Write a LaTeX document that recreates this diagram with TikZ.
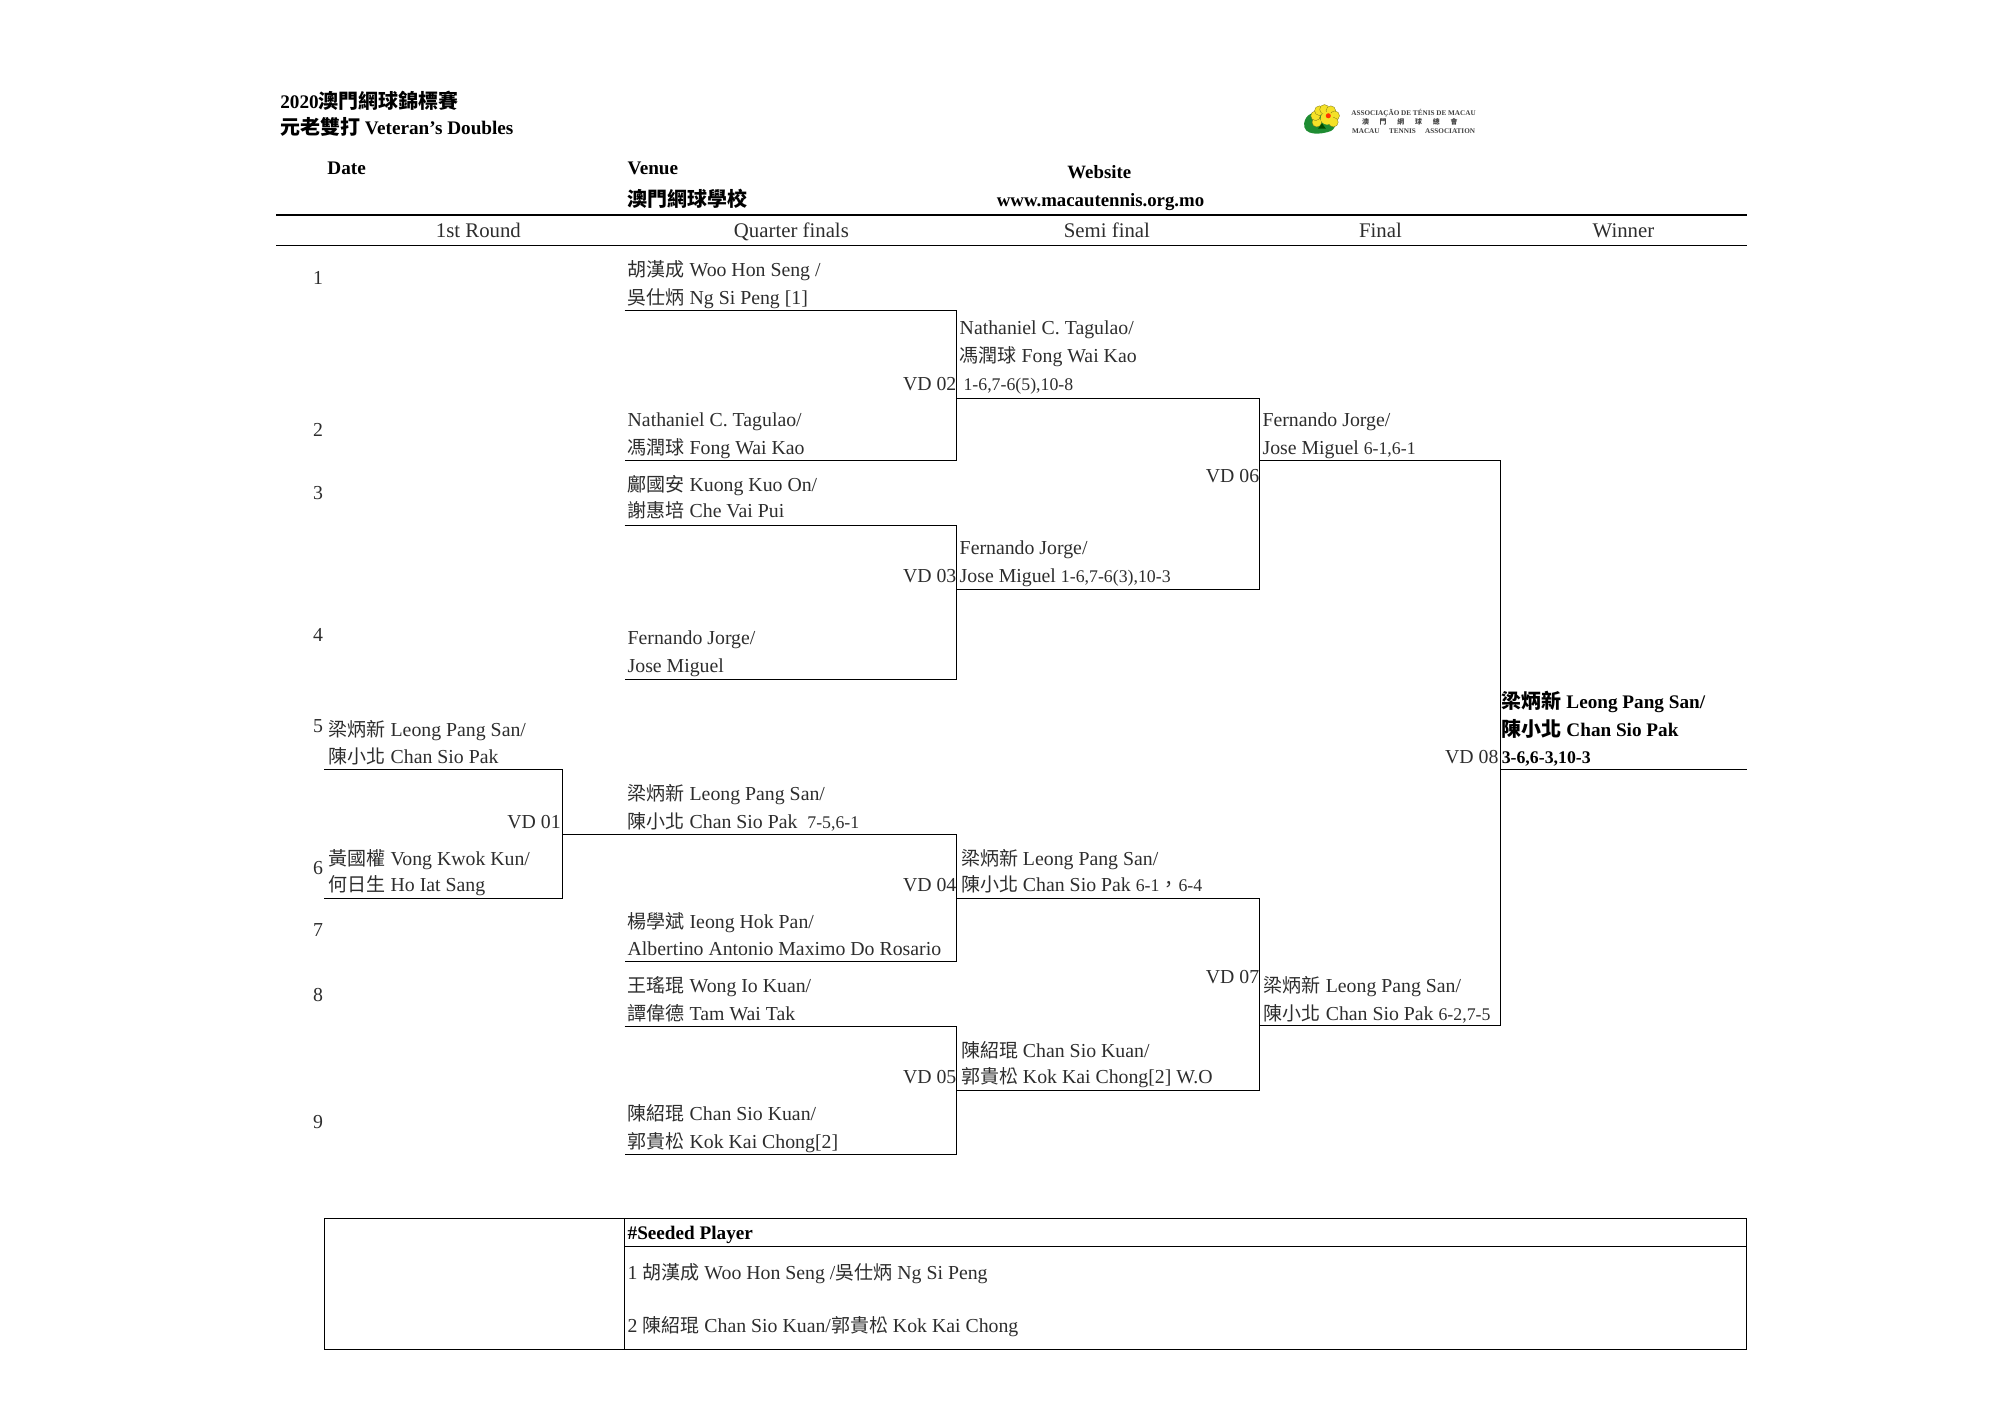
\documentclass[tikz,border=0pt]{standalone}
\usepackage{fontspec}
\usepackage{xcolor}
\setmainfont{Liberation Serif}
\newfontfamily\cjk[Scale=0.96]{Noto Sans CJK TC}
\newfontfamily\cjkb[Scale=1.04]{Noto Sans CJK TC}
\newcommand{\zh}[1]{{\cjk #1}}
\newcommand{\zhb}[1]{{\cjkb\bfseries #1}}
\newcommand{\scr}[1]{{\fontsize{8.9pt}{11pt}\selectfont #1}}
\definecolor{txtc}{RGB}{45,45,45}
\definecolor{logog}{RGB}{30,140,50}
\definecolor{logoy}{RGB}{245,225,40}
\usetikzlibrary{positioning}

\begin{document}
\begin{tikzpicture}[x=0.6361pt,y=-0.6361pt,font=\fontsize{9.9pt}{11pt}\selectfont]
\tikzstyle{ent}=[anchor=base west,inner sep=0pt,text=txtc,yshift=-0.6pt]
\tikzstyle{bent}=[anchor=base west,inner sep=0pt,yshift=-0.6pt,font=\fontsize{9.6pt}{11pt}\selectfont\bfseries]
\tikzstyle{vd}=[anchor=base east,inner sep=0pt,text=txtc,yshift=-0.6pt]
\tikzstyle{hd}=[anchor=base,inner sep=0pt,text=txtc,yshift=-0.6pt,font=\fontsize{10.4pt}{11pt}\selectfont]
\tikzstyle{web}=[anchor=base,inner sep=0pt,font=\fontsize{9.4pt}{10pt}\selectfont\bfseries]
\tikzstyle{num}=[anchor=base,inner sep=0pt,text=txtc,yshift=-0.6pt]
\tikzstyle{lg}=[anchor=base,inner sep=0pt,font=\fontsize{3.6pt}{4pt}\selectfont\bfseries,text=black!75]
\tikzstyle{rule}=[line width=0.8pt]
\tikzstyle{br}=[line width=0.45pt]
\useasboundingbox (0,0) rectangle (1568,1109);
% title block
\node[bent] (t1) at (220,84) {2020\zhb{澳門網球錦標賽}};
\node[bent] (t2) at (220,105) {\zhb{元老雙打} Veteran's Doubles};
\node[bent] (date) at (257,136) {Date};
\node[bent] (venue) at (493,136) {Venue};
\node[bent] (vname) at (493,161) {\zhb{澳門網球學校}};
\node[web] (site) at (864,140) {Website};
\node[web] (url) at (865,162) {www.macautennis.org.mo};
% logo
\fill[logog] (1025,97) .. controls (1026,90) and (1032,87) .. (1040,89) .. controls (1050,91) and (1052,100) .. (1046,103) .. controls (1038,106) and (1024,107) .. (1025,97) -- cycle;
\foreach \i/\j in {1035/96,1034/91,1037/87,1041/86,1046/87,1049/91,1048/96}
  \filldraw[fill=logoy,draw=olive!80!black,line width=0.15pt] (\i,\j) circle (3.8);
\fill[logoy] (1043,93) circle (5);
\fill[red!60!orange] (1044,91) circle (2);
\fill[green!30!black] (1036,101) -- (1039,97) -- (1042,101) -- cycle;
\node[lg] (l1) at (1111,91) {ASSOCIAÇÃO DE TÉNIS DE MACAU};
\node[lg] (l2) at (1108,98) {\zh{澳\hspace{5.4pt}門\hspace{5.4pt}網\hspace{5.4pt}球\hspace{5.4pt}總\hspace{5.4pt}會}};
\node[lg] (l3) at (1111,105) {MACAU\ \ \hspace{2.9pt}TENNIS\ \ \hspace{2.9pt}ASSOCIATION};
% header rows
\draw[rule] (217,169) coordinate (ra) -- (1373,169) coordinate (rb);
\draw[rule] (217,193) coordinate (rc) -- (1373,193) coordinate (rd);
\node[hd] (h1) at (376,186) {1st Round};
\node[hd] (h2) at (622,186) {Quarter finals};
\node[hd] (h3) at (870,186) {Semi final};
\node[hd] (h4) at (1085,186) {Final};
\node[hd] (h5) at (1276,186) {Winner};
% draw numbers
\foreach \n/\y in {1/223,2/342,3/392,4/503,5/575,6/686,7/735,8/786,9/886}
  \node[num] (n\n) at (250,\y) {\n};
% first round
\node[ent] (a1) at (258,578) {\zh{梁炳新} Leong Pang San/};
\node[ent] (a2) at (258,599) {\zh{陳小北} Chan Sio Pak};
\node[ent] (a3) at (258,679) {\zh{黃國權} Vong Kwok Kun/};
\node[ent] (a4) at (258,700) {\zh{何日生} Ho Iat Sang};
\node[vd] (vd1) at (441,650) {VD 01};
% quarter finals
\node[ent] (b1) at (493,216) {\zh{胡漢成} Woo Hon Seng /};
\node[ent] (b2) at (493,238) {\zh{吳仕炳} Ng Si Peng [1]};
\node[ent] (b3) at (493,334) {Nathaniel C. Tagulao/};
\node[ent] (b4) at (493,356) {\zh{馮潤球} Fong Wai Kao};
\node[ent] (b5) at (493,385) {\zh{鄺國安} Kuong Kuo On/};
\node[ent] (b6) at (493,406) {\zh{謝惠培} Che Vai Pui};
\node[ent] (b7) at (493,506) {Fernando Jorge/};
\node[ent] (b8) at (493,528) {Jose Miguel};
\node[ent] (b9) at (493,628) {\zh{梁炳新} Leong Pang San/};
\node[ent] (b10) at (493,650) {\zh{陳小北} Chan Sio Pak\ \ \scr{7-5,6-1}};
\node[ent] (b11) at (493,729) {\zh{楊學斌} Ieong Hok Pan/};
\node[ent] (b12) at (493,750) {Albertino Antonio Maximo Do Rosario};
\node[ent] (b13) at (493,779) {\zh{王瑤琨} Wong Io Kuan/};
\node[ent] (b14) at (493,801) {\zh{譚偉德} Tam Wai Tak};
\node[ent] (b15) at (493,880) {\zh{陳紹琨} Chan Sio Kuan/};
\node[ent] (b16) at (493,902) {\zh{郭貴松} Kok Kai Chong[2]};
\node[vd] (vd2) at (752,306) {VD 02};
\node[vd] (vd3) at (752,457) {VD 03};
\node[vd] (vd4) at (752,700) {VD 04};
\node[vd] (vd5) at (752,851) {VD 05};
% semi final
\node[ent] (c1) at (754,262) {Nathaniel C. Tagulao/};
\node[ent] (c2) at (754,284) {\zh{馮潤球} Fong Wai Kao};
\node[ent] (c3) at (757,306) {\scr{1-6,7-6(5),10-8}};
\node[ent] (c4) at (754,435) {Fernando Jorge/};
\node[ent] (c5) at (754,457) {Jose Miguel \scr{1-6,7-6(3),10-3}};
\node[ent] (c6) at (755,679) {\zh{梁炳新} Leong Pang San/};
\node[ent] (c7) at (755,700) {\zh{陳小北} Chan Sio Pak \scr{6-1}\zh{，}\scr{6-4}};
\node[ent] (c8) at (755,830) {\zh{陳紹琨} Chan Sio Kuan/};
\node[ent] (c9) at (755,851) {\zh{郭貴松} Kok Kai Chong[2] W.O};
\node[vd] (vd6) at (990,378) {VD 06};
\node[vd] (vd7) at (990,772) {VD 07};
% final
\node[ent] (d1) at (992,334) {Fernando Jorge/};
\node[ent] (d2) at (992,356) {Jose Miguel \scr{6-1,6-1}};
\node[ent] (d3) at (993,779) {\zh{梁炳新} Leong Pang San/};
\node[ent] (d4) at (993,801) {\zh{陳小北} Chan Sio Pak \scr{6-2,7-5}};
\node[vd] (vd8) at (1178,599) {VD 08};
% winner
\node[bent] (e1) at (1180,556) {\zhb{梁炳新} Leong Pang San/};
\node[bent] (e2) at (1180,578) {\zhb{陳小北} Chan Sio Pak};
\node[bent] (e3) at (1180,599) {\scr{3-6,6-3,10-3}};
% bracket ends
\coordinate (r1) at (255,605);
\coordinate (r2) at (255,706);
\coordinate (q5) at (442,656);
\coordinate (q1) at (491,244);
\coordinate (q2) at (491,362);
\coordinate (q3) at (491,413);
\coordinate (q4) at (491,534);
\coordinate (q6) at (491,756);
\coordinate (q7) at (491,807);
\coordinate (q8) at (491,907);
\coordinate (s1) at (752,313);
\coordinate (s2) at (752,463);
\coordinate (s3) at (752,706);
\coordinate (s4) at (752,857);
\coordinate (f1) at (990,362);
\coordinate (f2) at (990,806);
\coordinate (w1) at (1179,605);
\coordinate (w2) at (1373,605);
\draw[br] (r1) -| (q5) |- (r2);
\draw[br] (q1) -| (s1) |- (q2);
\draw[br] (q3) -| (s2) |- (q4);
\draw[br] (q5) -| (s3) |- (q6);
\draw[br] (q7) -| (s4) |- (q8);
\draw[br] (s1) -| (f1) |- (s2);
\draw[br] (s3) -| (f2) |- (s4);
\draw[br] (f1) -| (w1) |- (f2);
\draw[br] (w1) -- (w2);
% seeded box
\draw[br] (255,958) rectangle (1373,1061);
\draw[br] (491,958) coordinate (g1) -- (491,1061) coordinate (g2);
\draw[br] (491,980) coordinate (g3) -- (1373,980) coordinate (g4);
\node[bent] (sd) at (493,973) {\#Seeded Player};
\node[ent] (sd1) at (493,1005) {1 \zh{胡漢成} Woo Hon Seng /\zh{吳仕炳} Ng Si Peng};
\node[ent] (sd2) at (493,1046) {2 \zh{陳紹琨} Chan Sio Kuan/\zh{郭貴松} Kok Kai Chong};
\end{tikzpicture}
\end{document}
